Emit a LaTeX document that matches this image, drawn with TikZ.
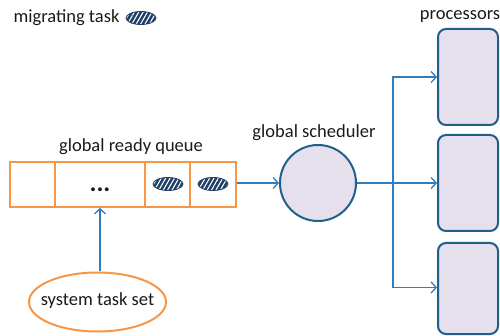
\documentclass[tikz,border=0pt]{standalone}
\usepackage{fontspec}
\setmainfont{Carlito}
\usetikzlibrary{arrows.meta,patterns.meta,shapes.geometric}
\definecolor{qorange}{HTML}{F79646}
\definecolor{pblue}{HTML}{1F5F8B}
\definecolor{lav}{HTML}{E6E0EC}
\definecolor{cblue}{HTML}{2E7DBF}
\definecolor{navy}{HTML}{1F3F66}
\definecolor{txt}{HTML}{1A1A1A}
\begin{document}
\begin{tikzpicture}[x=1pt,y=-1pt,
  every node/.style={font=\fontsize{18.5}{22}\selectfont, text=txt},
  cell/.style={draw=qorange, line width=2pt, rectangle, inner sep=0pt, minimum height=45pt},
  proc/.style={draw=pblue, fill=lav, line width=2pt, rounded corners=8pt, minimum width=60pt, inner sep=0pt},
  conn/.style={draw=cblue, line width=1.3pt, -{Straight Barb[length=5pt,width=11pt]}},
  plain/.style={draw=cblue, line width=1.3pt},
  hatch/.style={ellipse, inner sep=0pt, minimum width=30pt, minimum height=13pt,
     draw=navy, line width=0.8pt, preaction={fill=navy},
     pattern={Lines[angle=60,distance=3.8pt,line width=1.1pt]}, pattern color=white}
]
\useasboundingbox (0,0) rectangle (500,336);
% legend
\node[anchor=west] (leg) at (10,18) {migrating task};
\node[hatch] (legicon) at (141,18) {};
% queue
\node[cell, minimum width=45pt] (c1) at (32.5,184.5) {};
\node[cell, minimum width=90pt] (c2) at (100,184.5) {};
\node[font=\fontsize{26}{26}\selectfont\bfseries, anchor=base] (dots) at (100,192) {...};
\node[cell, minimum width=45pt] (c3) at (167.5,184.5) {};
\node[cell, minimum width=46pt] (c4) at (213,184.5) {};
\node[hatch] (h3) at (168,184) {};
\node[hatch] (h4) at (213,184) {};
\node (qlabel) at (131,147) {global ready queue};
% scheduler
\node[circle, draw=pblue, fill=lav, line width=2pt, minimum size=76pt, inner sep=0pt] (sched) at (318,183) {};
\node (slabel) at (314,133) {global scheduler};
% processors
\node[proc, minimum height=96pt] (p1) at (468,77) {};
\node[proc, minimum height=96pt] (p2) at (468,183) {};
\node[proc, minimum height=91pt] (p3) at (468,288.5) {};
\node (plabel) at (460,17) {processors};
% task set
\node[ellipse, draw=qorange, line width=2pt, minimum width=137pt, minimum height=59pt, inner sep=0pt] (ts) at (97.5,302) {};
\node (tslabel) at (97.5,301) {system task set};
% connectors
\coordinate (j) at (393,183);
\draw[conn] (c4.east |- sched.west) -- (sched.west);
\draw[plain] (sched.east) -- (j);
\draw[conn] (j) -- (p2.west |- j);
\draw[conn] (j) |- (p1.west);
\draw[conn] (j) |- ([yshift=1pt]p3.west);
\draw[conn] (ts.north -| c2.south) -- (c2.south);
\end{tikzpicture}
\end{document}
